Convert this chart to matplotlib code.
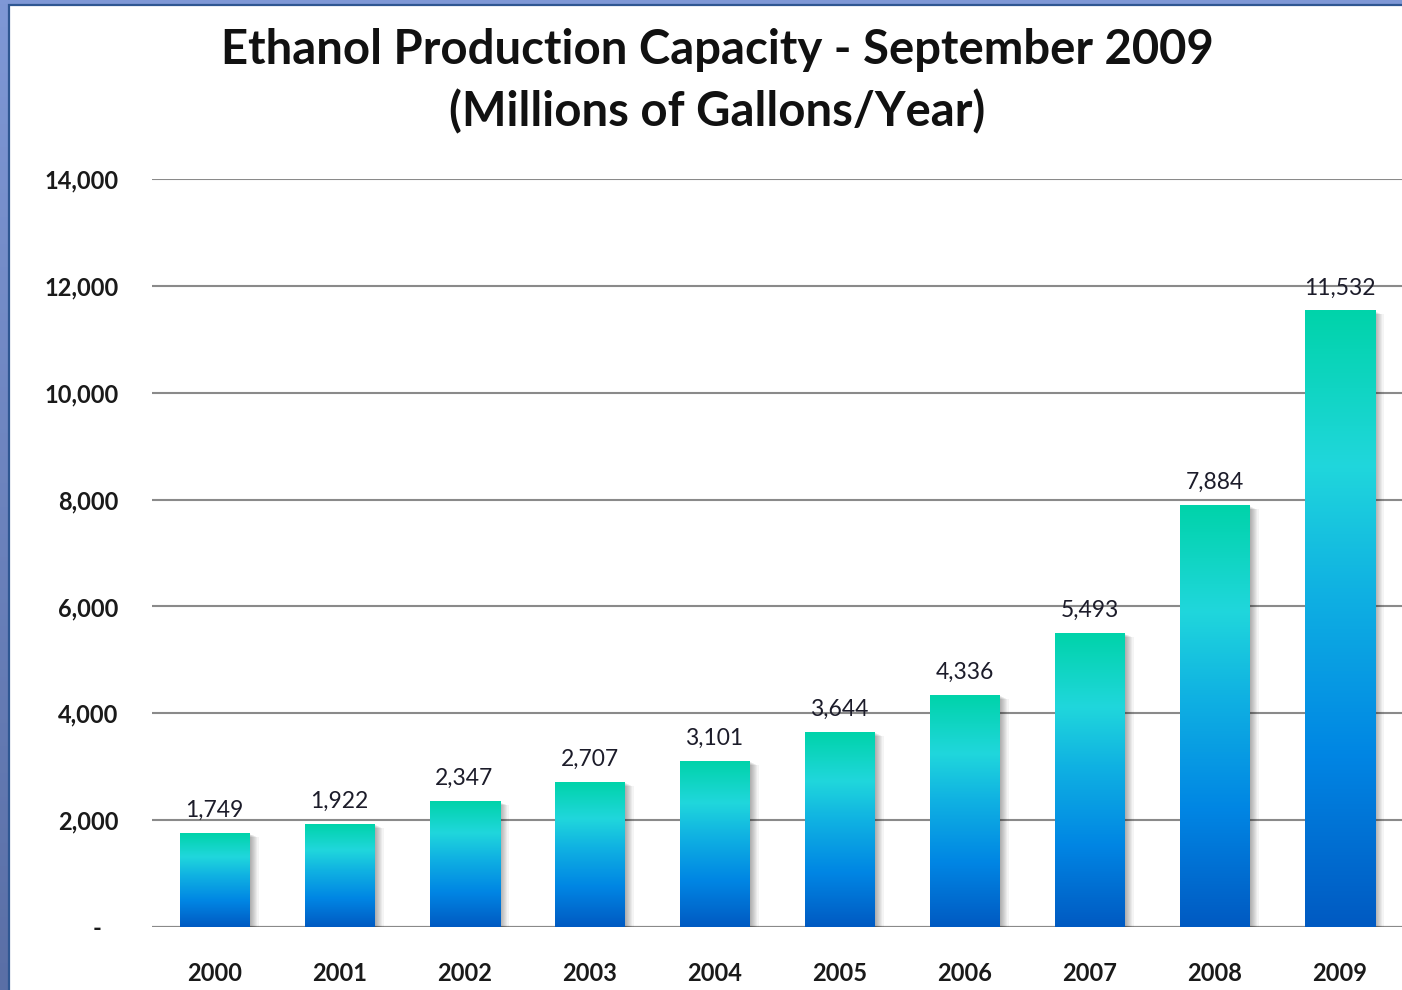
import matplotlib
matplotlib.use('Agg')
import matplotlib.pyplot as plt
import numpy as np
from matplotlib.colors import LinearSegmentedColormap
from matplotlib.patches import Rectangle
import matplotlib.patheffects as pe
from matplotlib.ticker import FuncFormatter

plt.rcParams['font.family'] = ['Lato', 'DejaVu Sans']

# 数据
years = ['2000', '2001', '2002', '2003', '2004', '2005', '2006', '2007', '2008', '2009']
capacity = [1749, 1922, 2347, 2707, 3101, 3644, 4336, 5493, 7884, 11532]
title_line1 = 'Ethanol Production Capacity - September 2009'
title_line2 = '(Millions of Gallons/Year)'

# 柱子渐变色（底部 -> 顶部）
bar_cmap = LinearSegmentedColormap.from_list('ethanol', [
    (0.00, '#005ac2'),
    (0.28, '#0086e4'),
    (0.55, '#10b2e2'),
    (0.75, '#20d7dc'),
    (1.00, '#00d3aa'),
])

fig = plt.figure(figsize=(14.02, 9.9), dpi=100)

# 背景边框（左侧和顶部的蓝色条）
bg = fig.add_axes([0, 0, 1, 1], zorder=-10)
bg.imshow(np.linspace(0, 1, 256).reshape(-1, 1),
          cmap=LinearSegmentedColormap.from_list('bd', ['#7f98d6', '#5a6fa6']),
          aspect='auto', extent=[0, 1, 0, 1])
bg.add_patch(Rectangle((9 / 1402, -0.01), 1, 1 - 5 / 990 + 0.01,
                       facecolor='white', edgecolor='#2f5792', linewidth=1.6))
bg.set_xlim(0, 1)
bg.set_ylim(0, 1)
bg.axis('off')

ax = fig.add_axes([152 / 1402, 1 - 927 / 990, 1 - 152 / 1402, (927 - 179) / 990])
ax.set_facecolor('none')

x = np.arange(len(years))
bar_w = 0.56
bars = ax.bar(x, capacity, width=bar_w, color='#0086e4', zorder=3)

# 阴影（多层叠加模拟模糊）
shadow_fx = [pe.SimplePatchShadow(offset=(k, -k * 0.4), shadow_rgbFace='#000000', alpha=0.045)
             for k in np.arange(6.5, 0.4, -0.75)]
grad = np.linspace(0, 1, 256).reshape(-1, 1)
for bar in bars:
    bar.set_path_effects(shadow_fx + [pe.Normal()])
    x0 = bar.get_x()
    x1 = x0 + bar.get_width()
    h = bar.get_height()
    ax.imshow(grad, cmap=bar_cmap, origin='lower', aspect='auto',
              extent=[x0, x1, 0, h], zorder=4)

for xi, v in zip(x, capacity):
    ax.annotate(f'{v:,}', (xi, v), xytext=(0, 9), textcoords='offset points',
                ha='center', va='bottom', fontsize=16.5, color='#1c1c2a', zorder=6)

ax.set_xlim(-0.5, len(years) - 0.5)
ax.set_ylim(0, 14000)
ax.set_yticks(range(0, 14001, 2000))
ax.yaxis.set_major_formatter(FuncFormatter(lambda v, p: f'{int(v):,}' if v else '-   '))
ax.set_xticks(x)
ax.set_xticklabels(years)
ax.grid(axis='y', color='#8a8a8a', linewidth=1.5, zorder=0)
ax.set_axisbelow(True)
ax.tick_params(axis='both', length=0, labelsize=17)
ax.tick_params(axis='y', pad=24)
ax.tick_params(axis='x', pad=25)
for lab in ax.get_xticklabels() + ax.get_yticklabels():
    lab.set_fontweight('bold')
    lab.set_color('#1a1a1a')
for s in ax.spines.values():
    s.set_visible(False)
ax.axhline(0, color='#8a8a8a', linewidth=1.5, zorder=2)

fig.text(717 / 1402, 1 - 50 / 990, title_line1, ha='center', va='center',
         fontsize=34, fontweight='bold', color='#111111')
fig.text(717 / 1402, 1 - 112 / 990, title_line2, ha='center', va='center',
         fontsize=34, fontweight='bold', color='#111111')

plt.savefig('out.png', dpi=100)
plt.close()
